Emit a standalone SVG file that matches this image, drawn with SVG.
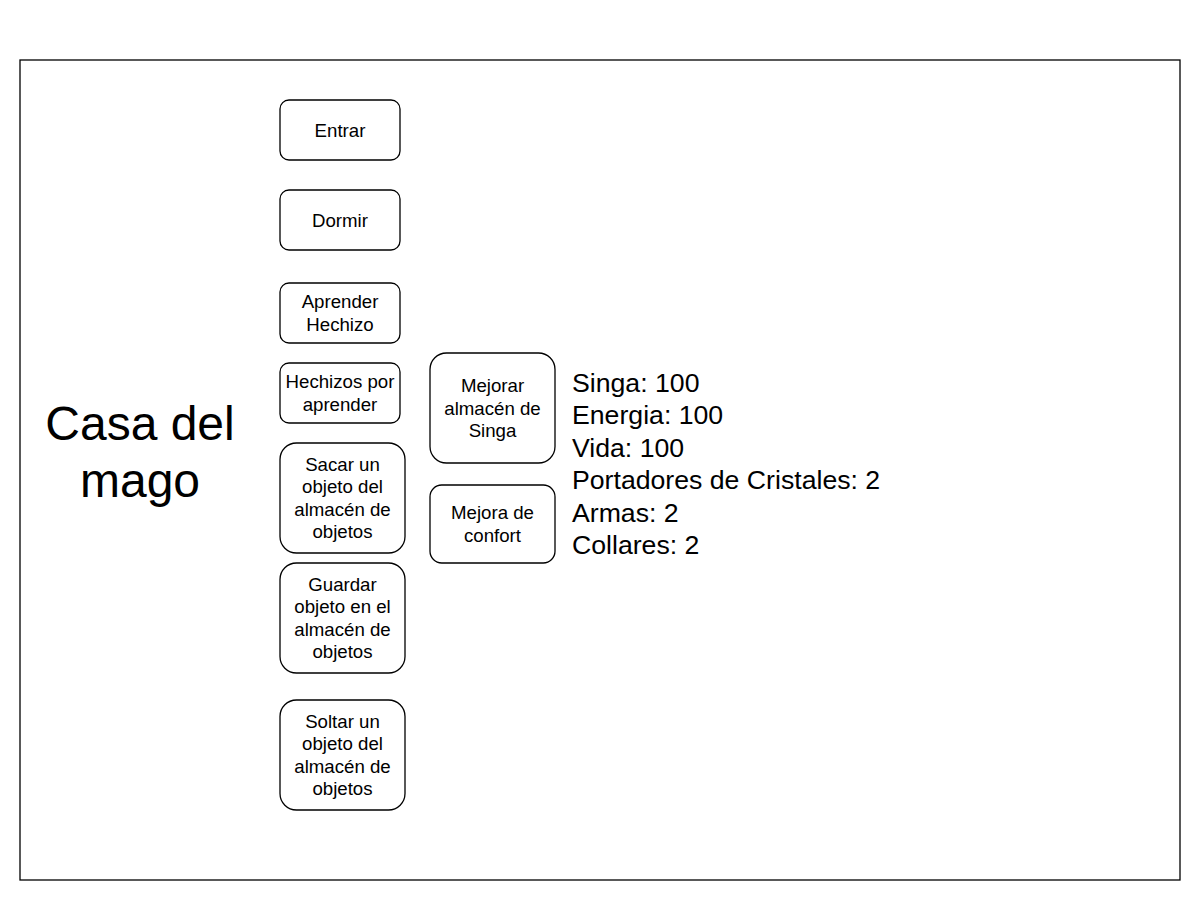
<svg xmlns="http://www.w3.org/2000/svg" width="1182" height="902" viewBox="0 0 1182 902">
<style>
.box{fill:#fff;stroke:#000;stroke-width:1.3}
.t{font-family:"Liberation Sans",Arial,sans-serif;font-size:18.67px;fill:#000;text-anchor:middle}
.big{font-family:"Liberation Sans",Arial,sans-serif;font-size:48px;fill:#000;text-anchor:middle}
.st{font-family:"Liberation Sans",Arial,sans-serif;font-size:26.67px;fill:#000}
</style>
<rect width="1182" height="902" fill="#fff"/>
<rect id="frame" x="20" y="60" width="1160" height="820" fill="#fff" stroke="#000" stroke-width="1.3"/>
<g id="title"><text class="big"><tspan x="140" y="439.5">Casa del</tspan><tspan x="140" y="497">mago</tspan></text></g>
<g id="connectors"></g>
<g id="entrar"><rect class="box" x="280" y="100" width="120" height="60" rx="9"/><text class="t" x="340" y="136.5">Entrar</text></g>
<g id="dormir"><rect class="box" x="280" y="190" width="120" height="60" rx="9"/><text class="t" x="340" y="226.5">Dormir</text></g>
<g id="aprender"><rect class="box" x="280" y="283" width="120" height="60" rx="9"/><text class="t"><tspan x="340" y="308.3">Aprender</tspan><tspan x="340" y="330.7">Hechizo</tspan></text></g>
<g id="hechizos"><rect class="box" x="280" y="363" width="120" height="60" rx="9"/><text class="t"><tspan x="340" y="388.3">Hechizos por</tspan><tspan x="340" y="410.7">aprender</tspan></text></g>
<g id="sacar"><rect class="box" x="280" y="443" width="125" height="110" rx="16.5"/><text class="t"><tspan x="342.5" y="470.9">Sacar un</tspan><tspan x="342.5" y="493.3">objeto del</tspan><tspan x="342.5" y="515.7">almacén de</tspan><tspan x="342.5" y="538.1">objetos</tspan></text></g>
<g id="guardar"><rect class="box" x="280" y="563" width="125" height="110" rx="16.5"/><text class="t"><tspan x="342.5" y="590.9">Guardar</tspan><tspan x="342.5" y="613.3">objeto en el</tspan><tspan x="342.5" y="635.7">almacén de</tspan><tspan x="342.5" y="658.1">objetos</tspan></text></g>
<g id="soltar"><rect class="box" x="280" y="700" width="125" height="110" rx="16.5"/><text class="t"><tspan x="342.5" y="727.9">Soltar un</tspan><tspan x="342.5" y="750.3">objeto del</tspan><tspan x="342.5" y="772.7">almacén de</tspan><tspan x="342.5" y="795.1">objetos</tspan></text></g>
<g id="mejorar"><rect class="box" x="430" y="353" width="125" height="110" rx="16.5"/><text class="t"><tspan x="492.5" y="392.1">Mejorar</tspan><tspan x="492.5" y="414.5">almacén de</tspan><tspan x="492.5" y="436.9">Singa</tspan></text></g>
<g id="confort"><rect class="box" x="430" y="485" width="125" height="78" rx="11.7"/><text class="t"><tspan x="492.5" y="519.3">Mejora de</tspan><tspan x="492.5" y="541.7">confort</tspan></text></g>
<g id="stats"><text class="st"><tspan x="572" y="392">Singa: 100</tspan><tspan x="572" y="424.4">Energia: 100</tspan><tspan x="572" y="456.8">Vida: 100</tspan><tspan x="572" y="489.2">Portadores de Cristales: 2</tspan><tspan x="572" y="521.6">Armas: 2</tspan><tspan x="572" y="554">Collares: 2</tspan></text></g>
</svg>
